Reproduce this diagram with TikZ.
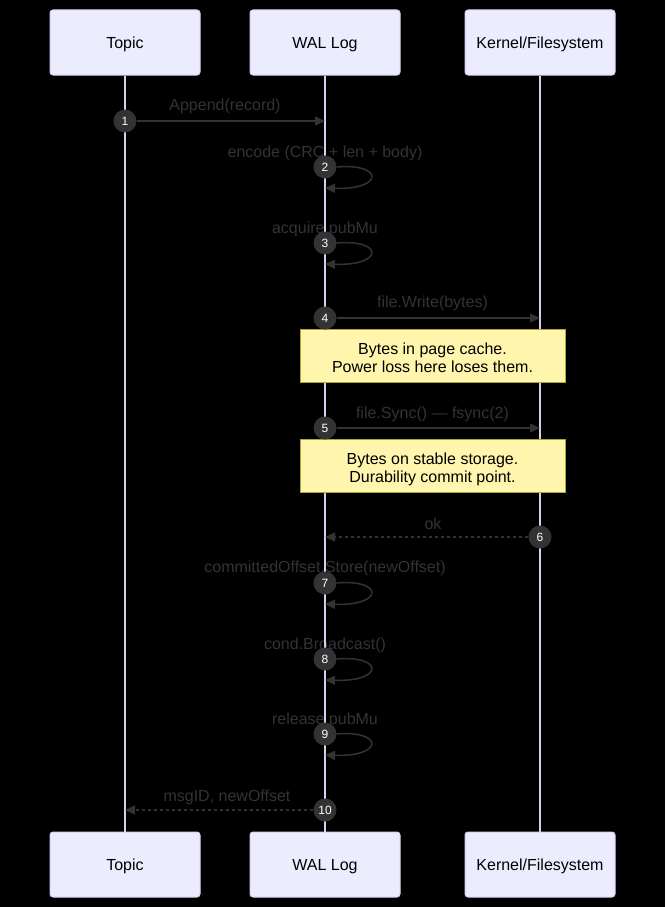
\documentclass[tikz,border=0pt]{standalone}
\usepackage{fontspec}
\setmainfont{Liberation Sans}
\usepackage{tikz}
\usetikzlibrary{arrows.meta}
\definecolor{actorfill}{HTML}{ECECFF}
\definecolor{actorline}{HTML}{DACEF3}
\definecolor{msgline}{HTML}{333333}
\definecolor{notefill}{HTML}{FFF5AD}
\definecolor{noteline}{HTML}{AAAA33}

\begin{document}
\begin{tikzpicture}[
    x=1pt, y=-1pt,
    actor/.style={rectangle, rounded corners=3pt, draw=actorline, fill=actorfill, line width=1pt,
                  minimum width=150pt, minimum height=65pt, text height=12.6pt, text depth=0pt,
                  font=\fontsize{16}{19}\selectfont},
    note/.style={rectangle, draw=noteline, fill=notefill, line width=1pt, text height=33.5pt, text depth=0pt,
                 minimum width=265pt, minimum height=53pt, align=center, font=\fontsize{16}{18}\selectfont},
    seqnum/.style={circle, fill=msgline, text=white, minimum size=23pt, inner sep=0pt,
                   font=\fontsize{12}{14}\selectfont},
    msglabel/.style={text=msgline, inner sep=0pt, font=\fontsize{16}{19}\selectfont},
    msg/.style={draw=msgline, line width=1.5pt, -{Triangle[length=10pt,width=9pt]}},
    reply/.style={msg, dash pattern=on 3pt off 3pt},
    lifeline/.style={draw=actorline, line width=1.5pt}
]
    % background
    \fill[black] (0,0) rectangle (665,907);

    % actors
    \node[actor] (topic) at (125,42.5) {Topic};
    \node[actor] (wal) at (325,42.5) {WAL Log};
    \node[actor] (kernel) at (540,42.5) {Kernel/Filesystem};
    \node[actor] (topicB) at (125,864.5) {Topic};
    \node[actor] (walB) at (325,864.5) {WAL Log};
    \node[actor] (kernelB) at (540,864.5) {Kernel/Filesystem};

    % message labels
    \node[msglabel] (t1) at (225,106) {Append(record)};
    \node[msglabel] (t2) at (325,153) {encode (CRC + len + body)};
    \node[msglabel] (t3) at (325,229) {acquire pubMu};
    \node[msglabel] (t4) at (432.5,303) {file.Write(bytes)};
    \node[msglabel] (t5) at (432.5,414) {file.Sync() — fsync(2)};
    \node[msglabel] (t6) at (433,524) {ok};
    \node[msglabel] (t7) at (325,568) {committedOffset.Store(newOffset)};
    \node[msglabel] (t8) at (325,645) {cond.Broadcast()};
    \node[msglabel] (t9) at (325,720) {release pubMu};
    \node[msglabel] (t10) at (227,797) {msgID, newOffset};

    % lifelines
    \draw[lifeline] (topic) -- (topicB);
    \draw[lifeline] (wal) -- (walB);
    \draw[lifeline] (kernel) -- (kernelB);

    % notes
    \node[note] (cache) at (432.5,355.5) {Bytes in page cache.\\Power loss here loses them.};
    \node[note] (stable) at (432.5,465.5) {Bytes on stable storage.\\Durability commit point.};

    % sequence numbers
    \node[seqnum] (s1) at (125,121) {1};
    \node[seqnum] (s2) at (325,167) {2};
    \node[seqnum] (s3) at (325,243) {3};
    \node[seqnum] (s4) at (325,318) {4};
    \node[seqnum] (s5) at (325,428) {5};
    \node[seqnum] (s6) at (540,537) {6};
    \node[seqnum] (s7) at (325,583) {7};
    \node[seqnum] (s8) at (325,659) {8};
    \node[seqnum] (s9) at (325,734) {9};
    \node[seqnum] (s10) at (325,810) {10};

    % arrow ends
    \coordinate (e1) at (325,121);
    \coordinate (e2) at (325,188);
    \coordinate (e3) at (325,264);
    \coordinate (e4) at (540,318);
    \coordinate (e5) at (540,428);
    \coordinate (e6) at (325,537);
    \coordinate (e7) at (325,604);
    \coordinate (e8) at (325,680);
    \coordinate (e9) at (325,755);
    \coordinate (e10) at (125,810);

    % messages
    \draw[msg] (s1) -- (e1);
    \draw[msg] (s2.east) .. controls (384,163) and (384,190) .. (e2);
    \draw[msg] (s3.east) .. controls (384,239) and (384,266) .. (e3);
    \draw[msg] (s4) -- (e4);
    \draw[msg] (s5) -- (e5);
    \draw[reply] (s6) -- (e6);
    \draw[msg] (s7.east) .. controls (384,579) and (384,606) .. (e7);
    \draw[msg] (s8.east) .. controls (384,655) and (384,682) .. (e8);
    \draw[msg] (s9.east) .. controls (384,730) and (384,757) .. (e9);
    \draw[reply] (s10) -- (e10);
\end{tikzpicture}
\end{document}
